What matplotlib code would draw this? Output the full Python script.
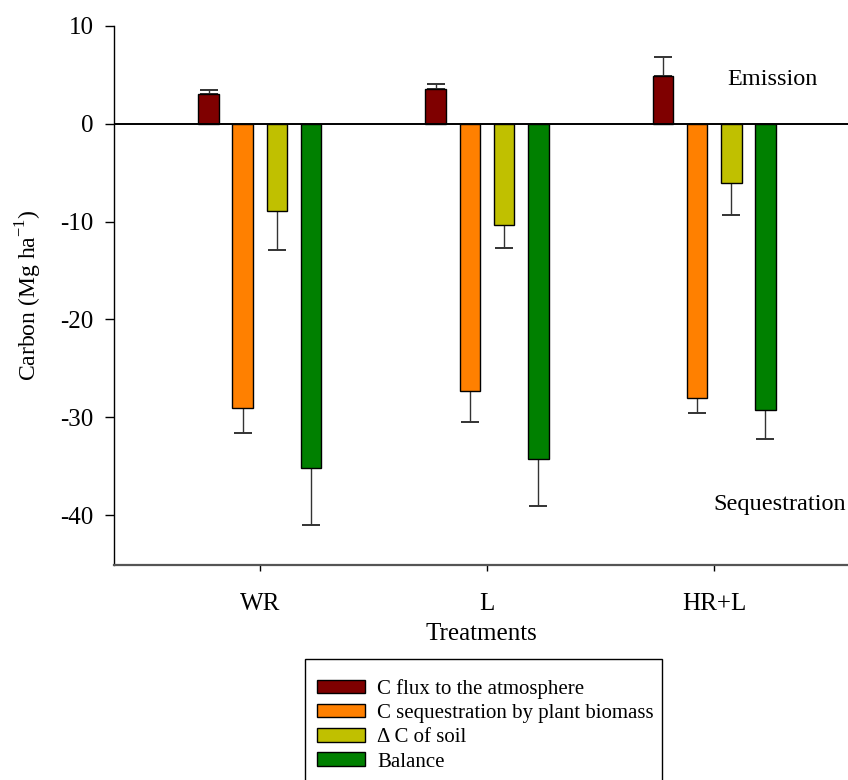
import numpy as np
import matplotlib
matplotlib.use("Agg")
import matplotlib.pyplot as plt
from matplotlib.patches import Patch, Rectangle

plt.rcParams['font.family'] = ['Liberation Serif', 'DejaVu Serif']
plt.rcParams['mathtext.fontset'] = 'custom'
plt.rcParams['mathtext.rm'] = 'Liberation Serif'
plt.rcParams['axes.unicode_minus'] = False

# Carbon budget per treatment (Mg ha-1), mean and standard error
treatments = ["WR", "L", "HR+L"]
series_names = ["C flux to the atmosphere",
                "C sequestration by plant biomass",
                "\u0394 C of soil",
                "Balance"]
flux_atm = [3.0, 3.55, 4.85]
flux_atm_err = [0.5, 0.5, 2.0]
plant_seq = [-29.1, -27.3, -28.0]
plant_seq_err = [2.5, 3.2, 1.55]
soil_delta = [-8.95, -10.35, -6.0]
soil_delta_err = [3.95, 2.3, 3.3]
balance = [-35.2, -34.3, -29.3]
balance_err = [5.8, 4.8, 2.9]

values = [flux_atm, plant_seq, soil_delta, balance]
errors = [flux_atm_err, plant_seq_err, soil_delta_err, balance_err]
colors = ["#7f0000", "#ff8000", "#c0c000", "#008000"]

fig = plt.figure(figsize=(8.48, 7.8), dpi=100)
ax = fig.add_axes([0.1344, 0.2756, 0.8656, 0.6911])

x = np.arange(len(treatments))
step = 0.15
width = 0.092
for i, (vals, errs, col) in enumerate(zip(values, errors, colors)):
    vals = np.array(vals)
    errs = np.array(errs)
    pos = x + (i - 1.5) * step
    # one-sided error bars pointing away from zero
    lower = np.where(vals < 0, errs, 0)
    upper = np.where(vals > 0, errs, 0)
    ax.bar(pos, vals, width, color=col, edgecolor="black", linewidth=1.0, zorder=2)
    ax.errorbar(pos, vals, yerr=[lower, upper], fmt="none", ecolor="#333333",
                elinewidth=1.0, capsize=6.5, capthick=1.4, zorder=1)

ax.axhline(0, color="black", linewidth=1.4, zorder=3)

ax.set_xlim(-0.643, 2.59)
ax.set_ylim(-45.1, 10)
ax.set_yticks([10, 0, -10, -20, -30, -40])
ax.set_xticks(x)
ax.set_xticklabels(treatments)
ax.tick_params(axis="both", direction="out", labelsize=18, width=1.0)
ax.tick_params(axis="x", length=4, pad=16)
ax.tick_params(axis="y", length=6.5, pad=8)

for side in ["top", "right"]:
    ax.spines[side].set_visible(False)
ax.spines["left"].set_linewidth(1.0)
ax.spines["bottom"].set_linewidth(1.6)
ax.spines["bottom"].set_color("#555555")

ax.set_ylabel("Carbon (Mg ha$^{-1}$)", fontsize=17, labelpad=12)
ax.set_xlabel("Treatments", fontsize=18, labelpad=6)

ax.text(2.455, 4.5, "Emission", fontsize=17.5, ha="right", va="center")
ax.text(2.58, -38.9, "Sequestration", fontsize=17.5, ha="right", va="center")

# legend box, running off the lower edge of the figure
fig.add_artist(Rectangle((0.3597, -0.05), 0.421, 0.205, transform=fig.transFigure,
                         facecolor="white", edgecolor="black", linewidth=1.0))

handles = [Patch(facecolor=c, edgecolor="black", linewidth=1.0) for c in colors]
leg = fig.legend(handles, series_names, loc="upper left",
                 bbox_to_anchor=(0.3738, 0.1298), fontsize=15,
                 frameon=False,
                 handlelength=2.3, handleheight=0.62, labelspacing=0.25,
                 handletextpad=0.58, borderpad=0.0, borderaxespad=0.0)

fig.savefig("out.png", dpi=100)
